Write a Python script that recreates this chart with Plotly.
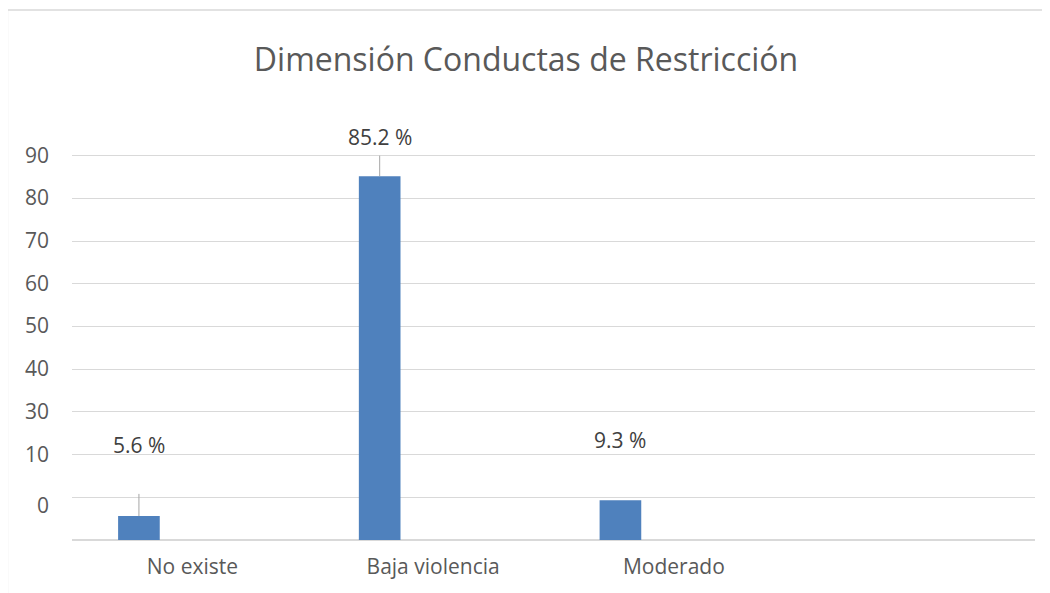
import numpy as np
import plotly.graph_objects as go

# ---- data ----
categories = ["No existe", "Baja violencia", "Moderado"]
values = [5.6, 85.2, 9.3]
value_labels = ["5.6 %", "85.2 %", "9.3 %"]
label_y = [22.3, 94.4, 23.4]          # where the data labels sit (axis units)
leader_top = [10.8, 90.0, None]       # top end of leader lines (axis units)
y_tick_text = ["90", "80", "70", "60", "50", "40", "30", "10", "0"]
y_tick_pos = [90.08, 80.08, 70.08, 60.08, 50.1, 40.1, 30.1, 20.0, 8.0]

BAR_OFFSET = -0.222
BAR_WIDTH = 0.173
BAR_COLOR = "#4f81bd"
GRID = "#d9d9d9"
FONT = "Open Sans"

# page has an 8px body margin; figure is sized so it fits the window
OFF = 8
W, H = 1050 - OFF, 593 - OFF
Y_MAX = 96
UNIT = 384 / 90.0                      # pixels per axis unit
plot_bottom = 540 - OFF
plot_top = 540 - Y_MAX * UNIT - OFF
L, R = 72 - OFF, 1050 - 1035
T, B = plot_top, H - plot_bottom

idx = np.arange(len(categories))
bar_x = idx + BAR_OFFSET

fig = go.Figure()
fig.add_trace(go.Bar(x=bar_x, y=values, width=BAR_WIDTH, marker=dict(color=BAR_COLOR, line=dict(width=0)),
                     showlegend=False, hoverinfo="skip"))

for xi, v, top in zip(bar_x, values, leader_top):
    if top is None:
        continue
    fig.add_trace(go.Scatter(x=[xi, xi], y=[v, top], mode="lines", line=dict(color="#a6a6a6", width=1),
                             showlegend=False, hoverinfo="skip", cliponaxis=False))

fig.add_trace(go.Scatter(x=[None], y=[None], yaxis="y2", showlegend=False))

for xi, ly, txt in zip(bar_x, label_y, value_labels):
    fig.add_annotation(x=xi, y=ly, text=txt, showarrow=False, xanchor="center", yanchor="middle",
                       font=dict(family=FONT, size=21, color="#404040"))

pw = W - L - R
ph = H - T - B
def px_x(p):
    return (p - OFF - L) / pw
def px_y(p):
    return (plot_bottom - (p - OFF)) / ph

fig.add_shape(type="rect", xref="paper", yref="paper",
              x0=px_x(7.5), x1=px_x(1070), y0=px_y(610), y1=px_y(10.5),
              line=dict(color=GRID, width=1.3), fillcolor="rgba(0,0,0,0)", layer="below")

fig.update_layout(
    width=W, height=H,
    margin=dict(l=L, r=R, t=T, b=B, pad=0),
    paper_bgcolor="white", plot_bgcolor="white",
    title=dict(text="Dimensión Conductas de Restricción", x=(526 - OFF) / W, xanchor="center",
               y=1 - (60 - OFF) / H, yanchor="middle",
               font=dict(family=FONT, size=32, color="#595959")),
    xaxis=dict(range=[-0.5, 3.5], tickmode="array", tickvals=idx, ticktext=categories,
               showgrid=False, zeroline=False, showline=True, linecolor=GRID, linewidth=1,
               ticks="", ticklabelstandoff=8,
               tickfont=dict(family=FONT, size=21, color="#595959")),
    yaxis=dict(range=[0, Y_MAX], dtick=10, tick0=0, showgrid=True, gridcolor=GRID, gridwidth=1,
               zeroline=True, zerolinecolor=GRID, showticklabels=False, ticks=""),
    yaxis2=dict(range=[0, Y_MAX], overlaying="y", side="left", tickmode="array",
                tickvals=y_tick_pos, ticktext=y_tick_text, showgrid=False, zeroline=False,
                ticks="", ticklabelstandoff=22,
                tickfont=dict(family=FONT, size=21, color="#595959")),
    font=dict(family=FONT, color="#595959"),
)

fig.write_html("out.html")
